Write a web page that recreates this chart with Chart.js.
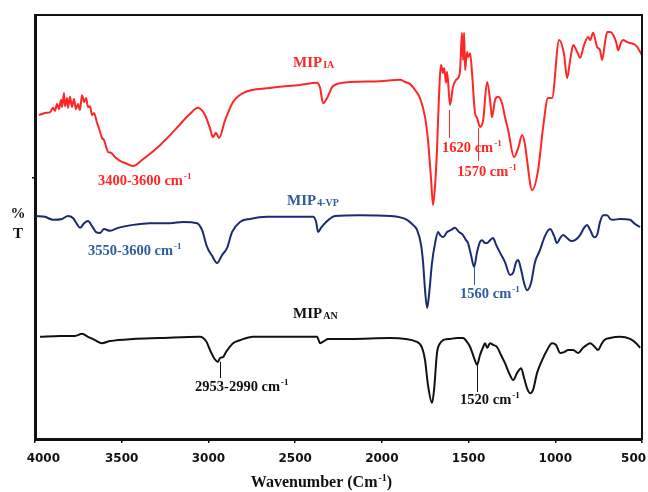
<!DOCTYPE html>
<html>
<head>
<meta charset="utf-8">
<script src="https://cdn.jsdelivr.net/npm/chart.js@4.4.1/dist/chart.umd.min.js"></script>
<style>
  html, body { margin: 0; padding: 0; background: #fff; }
  #wrap { width: 648px; height: 492px; }
</style>
</head>
<body>
<div id="wrap"><canvas id="chart" width="648" height="492"></canvas></div>
<script>
// FTIR spectra, wavenumber (cm-1) vs offset %T

const xTicks = [4000, 3500, 3000, 2500, 2000, 1500, 1000, 500];

// MIP IA (red)
const wnIA = [3977,3942,3913,3896,3885,3873,3862,3850,3844,3833,3827,3815,3810,3798,3787,3775,3764,3752,3741,3729,3717,3706,3694,3683,3671,3660,3642,3631,3614,3602,3590,3579,3562,3539,3510,3481,3435,3383,3279,3193,3106,3060,3020,2991,2974,2957,2939,2904,2858,2801,2645,2472,2374,2356,2339,2316,2281,2183,2010,1895,1866,1837,1808,
  1780,1751,1734,1716,1705,1693,1682,1676,1659,1647,1641,1630,1624,1607,1590,1572,1561,1549,1538,1532,1526,1520,1509,1503,1491,1480,1463,1451,1434,1416,1393,1370,1365,1347,1330,1307,1290,1272,1238,1214,1191,1174,1163,1134,1099,1070,1042,1019,978,
  949,932,914,897,874,857,834,811,799,782,759,742,730,713,701,684,666,649,638,620,609,586,569,545,528,511,493];
const tIA = [76.4,76.9,77.1,78.1,77.4,79.0,77.8,80.0,78.3,81.6,78.5,80.4,78.1,80.7,78.3,80.2,77.8,79.0,77.6,81.1,79.5,80.4,78.3,78.5,76.4,76.9,74.5,73.3,71.0,70.5,68.9,67.7,67.5,66.5,65.6,65.1,64.4,65.8,69.3,72.9,76.7,78.1,76.4,73.3,71.2,72.2,71.0,75.2,79.5,81.6,82.8,83.5,84.0,82.8,79.2,80.4,83.3,84.2,84.4,84.7,84.2,83.7,82.3,
  80.4,75.9,70.5,61.1,55.2,59.9,68.2,75.2,88.2,86.3,87.5,84.0,86.6,78.8,83.0,84.7,85.1,87.0,95.8,89.4,95.8,87.0,91.3,90.1,91.0,86.3,76.9,75.7,73.6,75.2,84.2,77.6,75.9,80.0,80.7,79.2,75.9,72.9,66.5,68.6,71.7,69.3,65.8,58.7,63.4,73.6,80.4,80.4,94.1,
  90.6,85.1,89.4,92.9,91.3,89.9,92.9,94.8,94.1,95.8,92.5,91.7,89.4,93.6,96.0,96.0,95.3,93.6,91.7,93.6,94.1,93.6,93.4,93.1,92.5,91.3,89.9];

// MIP 4-VP (blue)
const wnVP = [3994,3942,3896,3844,3810,3781,3758,3740,3717,3694,3671,3648,3625,3602,3567,3521,3435,3337,3221,3146,3066,3037,3008,2979,2950,2921,2893,2864,2818,2760,2662,2529,2397,2379,2368,2351,2328,2270,2126,1953,1855,1826,1797,1774,1762,1751,1739,1728,1711,1693,1676,1664,1647,1624,1601,1578,1555,1532,1515,1503,1486,1468,1451,1434,1422,1405,1393,1376,1359,1341,1318,1290,1261,1243,1226,1214,1197,1180,1163,1140,1117,1088,1059,1030,1007,990,972,955,932,909,886,857,834,817,799,776,759,742,724,701,684,666,626,569,540,511];
const tVP = [52.6,52.4,51.7,51.9,52.6,52.1,50.7,49.8,50.9,51.4,50.2,48.8,48.6,49.5,49.1,49.8,50.5,50.9,50.9,51.2,50.9,49.3,45.3,43.2,41.5,43.4,45.0,48.8,51.2,51.9,52.4,52.4,52.4,51.2,48.8,49.8,50.9,52.6,52.8,52.6,51.7,50.7,49.3,45.8,41.5,35.1,30.9,34.0,41.5,46.2,48.8,48.1,47.6,48.8,49.3,49.8,48.8,48.1,46.9,46.2,43.4,40.6,44.1,46.5,46.9,46.2,46.2,46.9,47.4,45.8,43.9,41.7,38.7,39.2,41.7,42.2,39.9,36.8,35.1,36.8,41.7,44.6,47.9,49.5,47.9,46.2,47.4,48.1,47.4,46.7,46.9,48.1,49.8,50.5,49.3,47.6,48.1,51.2,52.8,52.8,51.9,51.7,51.9,51.7,50.7,50.0];

// MIP AN (black)
const wnAN = [3971,3856,3769,3729,3694,3654,3614,3567,3435,3279,3049,3014,2991,2968,2945,2933,2916,2899,2858,2818,2743,2529,2374,2356,2333,2310,2183,1953,1797,1768,1751,1734,1711,1699,1682,1664,1647,1607,1567,1532,1509,1491,1468,1451,1434,1416,1405,1393,1376,1359,1336,1313,1290,1267,1243,1220,1197,1180,1163,1145,1128,1105,1076,1047,1019,996,972,949,926,897,868,840,817,799,776,753,736,718,684,626,569,534,511];
const tAN = [24.1,24.3,24.3,24.8,24.1,23.3,22.6,23.1,23.6,23.8,24.1,23.1,21.0,19.1,18.2,19.1,19.3,20.5,22.6,23.3,24.1,24.1,24.1,22.6,23.1,23.6,23.6,23.8,22.9,21.5,18.6,12.7,8.5,11.6,20.3,22.6,23.3,23.6,23.8,23.8,22.9,21.7,19.1,17.5,19.8,21.7,22.6,21.5,22.6,22.2,21.7,19.8,17.9,15.6,13.9,15.6,16.7,14.4,12.0,10.8,11.6,15.6,18.6,21.0,22.6,22.2,20.3,20.5,21.0,21.0,20.3,21.5,22.2,22.6,21.9,21.0,22.2,23.3,23.8,24.1,23.6,22.6,21.5];

const red = '#ff2626';
const navy = '#1b2b70';
const blueText = '#2f5c9c';

// text labels: [main, sub/sup, kind, wavenumber, %T, colour]
const labels = [
  ['MIP', 'IA', 'sub', 2512, 88.7, red],
  ['3400-3600 cm', '-1', 'sup', 3637, 60.8, red],
  ['1620 cm', '-1', 'sup', 1653, 68.6, red],
  ['1570 cm', '-1', 'sup', 1566, 63.0, red],
  ['MIP', '4-VP', 'sub', 2547, 56.1, blueText],
  ['3550-3600 cm', '-1', 'sup', 3694, 44.3, blueText],
  ['1560 cm', '-1', 'sup', 1549, 34.2, blueText],
  ['MIP', 'AN', 'sub', 2512, 29.5, '#111'],
  ['2953-2990 cm', '-1', 'sup', 3077, 12.3, '#111'],
  ['1520 cm', '-1', 'sup', 1549, 9.2, '#111']
];
// pointer lines: [wavenumber, %T from, %T to, colour]
const pointers = [
  [1613, 77.6, 71.0, red],
  [1445, 73.3, 65.6, red],
  [1468, 40.6, 36.3, blueText],
  [2933, 18.2, 14.4, '#111'],
  [1451, 17.5, 11.1, '#111']
];

function pts(xs, ys) {
  return xs.map((x, i) => ({x: x, y: ys[i]}));
}

function drawRich(ctx, x, y, main, extra, kind, size) {
  ctx.font = 'bold ' + size + 'px "Liberation Serif"';
  ctx.textBaseline = 'middle';
  ctx.textAlign = 'left';
  ctx.fillText(main, x, y);
  const w = ctx.measureText(main).width;
  if (kind === 'sub') {
    ctx.font = 'bold ' + Math.round(size * 0.68) + 'px "Liberation Serif"';
    ctx.fillText(extra, x + w + 1, y + size * 0.18);
  } else {
    ctx.font = 'bold ' + Math.round(size * 0.62) + 'px "Liberation Serif"';
    ctx.fillText(extra, x + w + 1, y - size * 0.3);
  }
}

const decor = {
  id: 'decor',
  afterDraw(chart) {
    const ctx = chart.ctx;
    const a = chart.chartArea;
    const xs = chart.scales.x, ys = chart.scales.y;
    ctx.save();
    // frame
    ctx.strokeStyle = '#111';
    ctx.lineWidth = 2;
    ctx.strokeRect(a.left, a.top, a.right - a.left, a.bottom - a.top);
    // pointer lines
    ctx.lineWidth = 1;
    pointers.forEach(p => {
      const px = Math.round(xs.getPixelForValue(p[0])) + 0.5;
      ctx.strokeStyle = p[3];
      ctx.beginPath();
      ctx.moveTo(px, ys.getPixelForValue(p[1]));
      ctx.lineTo(px, ys.getPixelForValue(p[2]));
      ctx.stroke();
    });
    // annotations
    labels.forEach(l => {
      ctx.fillStyle = l[5];
      const size = l[2] === 'sub' ? 15 : 14.5;
      drawRich(ctx, xs.getPixelForValue(l[3]), ys.getPixelForValue(l[4]), l[0], l[1], l[2], size);
    });
    // y title
    ctx.fillStyle = '#111';
    ctx.font = 'bold 15px "Liberation Serif"';
    ctx.textAlign = 'center';
    ctx.textBaseline = 'middle';
    const ym = (a.top + a.bottom) / 2;
    ctx.fillText('%', a.left - 17, ym - 13);
    ctx.fillText('T', a.left - 17, ym + 7);
    // x title
    const t1 = 'Wavenumber (Cm', t2 = '-1', t3 = ')';
    ctx.font = 'bold 16px "Liberation Serif"';
    const w1 = ctx.measureText(t1).width, w3 = ctx.measureText(t3).width;
    ctx.font = 'bold 10px "Liberation Serif"';
    const w2 = ctx.measureText(t2).width;
    let x0 = (a.left + a.right) / 2 - (w1 + w2 + w3 + 1) / 2 - 17;
    const yt = chart.height - 9;
    ctx.textAlign = 'left';
    ctx.font = 'bold 16px "Liberation Serif"';
    ctx.fillText(t1, x0, yt);
    ctx.font = 'bold 10px "Liberation Serif"';
    ctx.fillText(t2, x0 + w1 + 1, yt - 5);
    ctx.font = 'bold 16px "Liberation Serif"';
    ctx.fillText(t3, x0 + w1 + w2 + 1, yt);
    ctx.restore();
  }
};

const ds = (data, color) => ({
  data: data,
  borderColor: color,
  borderWidth: 2,
  pointRadius: 0,
  fill: false,
  cubicInterpolationMode: 'monotone'
});

new Chart(document.getElementById('chart').getContext('2d'), {
  type: 'line',
  data: {
    datasets: [
      ds(pts(wnIA, tIA), red),
      ds(pts(wnVP, tVP), navy),
      ds(pts(wnAN, tAN), '#111')
    ]
  },
  options: {
    responsive: false,
    animation: false,
    layout: { padding: { top: 15, right: 6, left: 0, bottom: 0 } },
    plugins: { legend: { display: false }, tooltip: { enabled: false } },
    scales: {
      x: {
        type: 'linear',
        reverse: true,
        min: 500,
        max: 4000,
        afterBuildTicks: s => { s.ticks = xTicks.map(v => ({value: v})); },
        afterFit: s => { s.height = 53; s.paddingLeft = 0; s.paddingRight = 0; },
        ticks: {
          color: '#111',
          padding: 9,
          maxRotation: 0,
          // nudge the two end labels inward, as in the original figure
          callback: v => v === 4000 ? '    4000' : v === 500 ? '500    ' : String(v),
          font: { family: 'DejaVu Sans', weight: 'bold', size: 12 }
        },
        grid: { drawOnChartArea: false, color: '#111', tickLength: 4, lineWidth: 1.5 },
        border: { color: '#111', width: 3 }
      },
      y: {
        min: 0,
        max: 100,
        afterBuildTicks: s => { s.ticks = [{value: 61.6}]; },
        afterFit: s => { s.width = 35; },
        ticks: { display: false },
        grid: { drawOnChartArea: false, color: '#111', tickLength: 3, lineWidth: 1.5 },
        border: { color: '#111', width: 3 }
      }
    }
  },
  plugins: [decor]
});
</script>
</body>
</html>
